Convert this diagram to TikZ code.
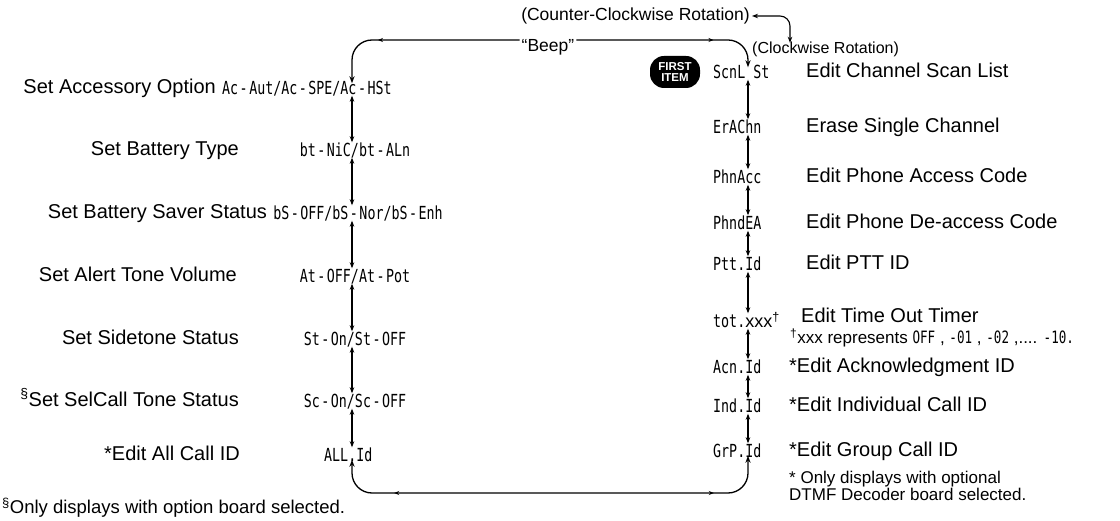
\documentclass[tikz,border=0pt]{standalone}
\usepackage{fontspec}
\setmainfont{Liberation Sans}
\newfontfamily\lcdfont[FakeStretch=0.74]{DejaVu Sans Mono}
\newcommand\lcddash{\hspace{1.5pt}-\hspace{1.5pt}}
\usetikzlibrary{arrows.meta,decorations.markings}
\begin{document}
\begin{tikzpicture}[x=1pt,y=-1pt,
  lab/.style={font=\fontsize{20}{22}\selectfont, inner sep=0pt, text height=14.5pt, text depth=4pt},
  lcd/.style={font=\lcdfont\fontsize{18}{20}\selectfont, inner sep=0pt, text height=13pt, text depth=0pt},
  note/.style={font=\fontsize{17}{14.5}\selectfont, inner sep=0pt, align=left},
  top/.style={font=\fontsize{17.5}{19}\selectfont, inner sep=0pt, text height=12.5pt, text depth=3.5pt},
  link/.style={line width=1.1pt, {Stealth[length=6pt,width=4.5pt]}-{Stealth[length=6pt,width=4.5pt]}, shorten >=1pt, shorten <=1pt},
  ring/.style={line width=1.3pt, rounded corners=20pt},
  badge/.style={fill=black, text=white, rounded corners=14pt, minimum width=50pt, minimum height=32pt, inner sep=1pt, align=center, font=\bfseries\fontsize{11.5}{11}\selectfont},
  mark1/.style={postaction={decorate}, decoration={markings,
     mark=at position #1 with {\arrow{Stealth[length=5pt,width=4pt]}}}}]
\useasboundingbox (0,0) rectangle (1120,521);
\coordinate (x1) at (352,0);
\coordinate (x2) at (748,0);
\coordinate (ty) at (0,40);
\coordinate (by) at (0,493);
\coordinate (cx) at (790,0);

% top annotations
\node[top, anchor=east] (ccw) at (750,16) {(Counter-Clockwise Rotation)};
\node[top] (beep) at (548,47) {“Beep”};
\node[top, anchor=west, font=\fontsize{16}{18}\selectfont] (cw) at (752,49) {(Clockwise Rotation)};
\node[badge] (first) at (675,72) {FIRST\\ITEM};

% left column
\node[lcd, anchor=west] (acc) at (222,88) {Ac\lcddash Aut/Ac\lcddash SPE/Ac\lcddash HSt};
\node[lcd] (bt) at (355,150) {bt\lcddash NiC/bt\lcddash ALn};
\node[lcd] (bs) at (358,213) {bS\lcddash OFF/bS\lcddash Nor/bS\lcddash Enh};
\node[lcd] (at) at (355,276) {At\lcddash OFF/At\lcddash Pot};
\node[lcd] (st) at (355,339) {St\lcddash On/St\lcddash OFF};
\node[lcd] (sc) at (355,401) {Sc\lcddash On/Sc\lcddash OFF};
\node[lcd, anchor=west] (all) at (324,455) {ALL.Id};

\node[lab, anchor=east] (lacc) at ([xshift=-6pt]acc.west) {Set Accessory Option};
\node[lab, anchor=east] (lbt) at (239,150) {Set Battery Type};
\node[lab, anchor=east] (lbs) at ([xshift=-6pt]bs.west) {Set Battery Saver Status};
\node[lab, anchor=east] (lat) at (237,276) {Set Alert Tone Volume};
\node[lab, anchor=east] (lst) at (239,339) {Set Sidetone Status};
\node[lab, anchor=east] (lsc) at (239,401) {\textsuperscript{§}Set SelCall Tone Status};
\node[lab, anchor=east] (lall) at (240,455) {*Edit All Call ID};
\node[note, anchor=west, font=\fontsize{18.5}{20}\selectfont] (fnl) at (2,508) {\textsuperscript{§}Only displays with option board selected.};

% right column
\node[lcd, anchor=west] (scn) at (713,72) {ScnL St};
\node[lcd, anchor=west] (era) at (713,127) {ErAChn};
\node[lcd, anchor=west] (pac) at (713,177) {PhnAcc};
\node[lcd, anchor=west] (pde) at (713,223) {PhndEA};
\node[lcd, anchor=west] (ptt) at (713,264) {Ptt.Id};
\node[lcd, anchor=west] (tot) at (713,321) {tot.{\normalfont xxx}\textsuperscript{\normalfont†}};
\node[lcd, anchor=west] (acn) at (713,367) {Acn.Id};
\node[lcd, anchor=west] (ind) at (713,406) {Ind.Id};
\node[lcd, anchor=west] (grp) at (713,451) {GrP.Id};

\node[lab, anchor=west] (rscn) at (806,72) {Edit Channel Scan List};
\node[lab, anchor=west] (rera) at (806,127) {Erase Single Channel};
\node[lab, anchor=west] (rpac) at (806,177) {Edit Phone Access Code};
\node[lab, anchor=west] (rpde) at (806,223) {Edit Phone De-access Code};
\node[lab, anchor=west] (rptt) at (806,264) {Edit PTT ID};
\node[lab, anchor=west] (rtot) at (801,317) {Edit Time Out Timer};
\node[note, anchor=west] (xxx) at (790,338) {\textsuperscript{†}xxx represents {\lcdfont OFF} , {\lcdfont -01} , {\lcdfont -02} ,.... {\lcdfont -10.}};
\node[lab, anchor=west] (racn) at (789,367) {*Edit Acknowledgment ID};
\node[lab, anchor=west] (rind) at (789,406) {*Edit Individual Call ID};
\node[lab, anchor=west] (rgrp) at (789,451) {*Edit Group Call ID};
\node[note, anchor=north west] (fnr) at (789,471) {* Only displays with optional\\DTMF Decoder board selected.};

% chain links
\foreach \a/\b in {acc/bt, bt/bs, bs/at, at/st, st/sc, sc/all}
  \draw[link] (\a.south -| x1) -- (\b.north -| x1);
\foreach \a/\b in {scn/era, era/pac, pac/pde, pde/ptt, ptt/tot, tot/acn, acn/ind, ind/grp}
  \draw[link] (\a.south -| x2) -- (\b.north -| x2);

% top loop
\draw[ring, -{Stealth[length=7pt,width=5pt]}, mark1=0.7]
  ([xshift=-2pt]beep.west |- ty) -- (x1 |- ty) -- ([yshift=-2pt]acc.north -| x1);
\draw[ring, -{Stealth[length=7pt,width=5pt]}, mark1=0.72]
  ([xshift=2pt]beep.east |- ty) -- (x2 |- ty) -- ([yshift=-2pt]scn.north -| x2);

% bottom loop
\draw[ring, {Stealth[length=7pt,width=5pt]}-{Stealth[length=7pt,width=5pt]},
  postaction={decorate}, decoration={markings,
     mark=at position 0.16 with {\arrow{Stealth[length=5pt,width=4pt,reversed]}},
     mark=at position 0.86 with {\arrow{Stealth[length=5pt,width=4pt]}}}]
  ([yshift=2pt]all.south -| x1) -- (x1 |- by) -- (x2 |- by) -- ([yshift=2pt]grp.south -| x2);

% rotation arrow
\draw[line width=1.1pt, rounded corners=10pt, {Stealth[length=6pt,width=4.5pt]}-{Stealth[length=6pt,width=4.5pt]}]
  ([xshift=2pt]ccw.east) -- (ccw.east -| cx) -- ([yshift=-2pt]cw.north -| cx);
\end{tikzpicture}
\end{document}
